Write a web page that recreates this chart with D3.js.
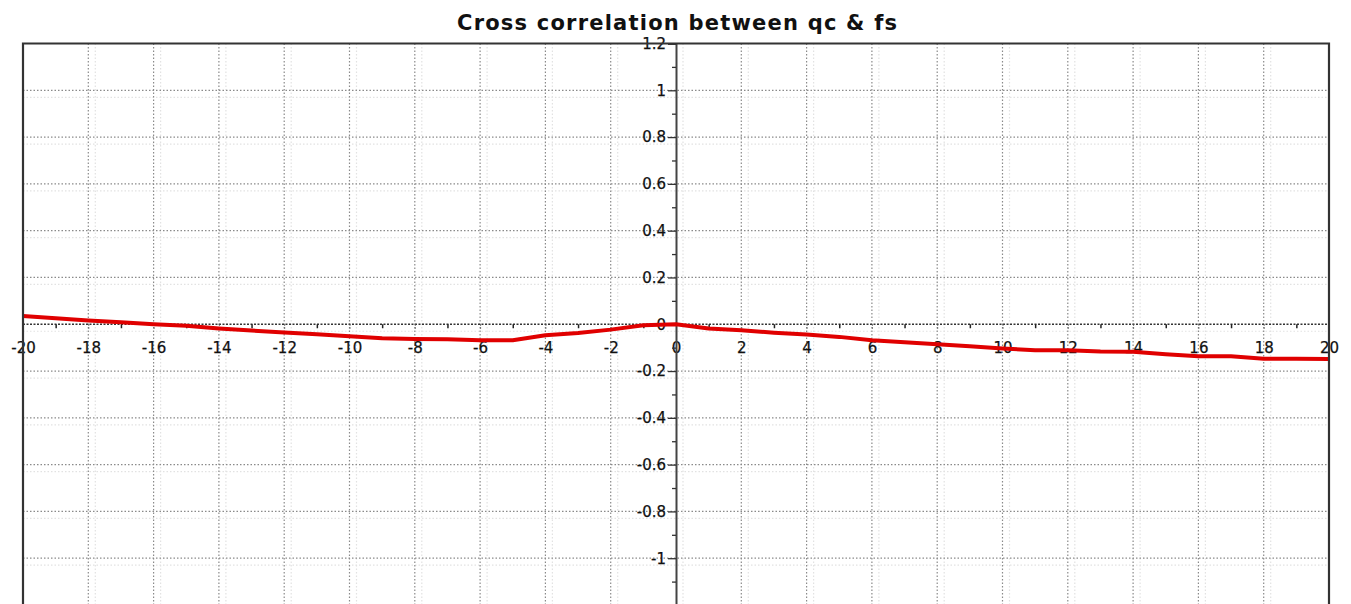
<!DOCTYPE html>
<html>
<head>
<meta charset="utf-8">
<script src="https://cdn.jsdelivr.net/npm/d3@7"></script>
<style>
  html, body { margin: 0; padding: 0; background: #fff; }
  svg { display: block; }
  text { font-family: "DejaVu Sans", Verdana, sans-serif; fill: #111; }
</style>
</head>
<body>
<svg id="chart" width="1351" height="604"></svg>
<script>
// Cross-correlation values by lag
const lags = [-20,-19,-18,-17,-16,-15,-14,-13,-12,-11,-10,-9,-8,-7,-6,-5,-4,-3,-2,-1,0,
              1,2,3,4,5,6,7,8,9,10,11,12,13,14,15,16,17,18,19,20];
const corr = [0.035,0.026,0.016,0.009,0.000,-0.006,-0.018,-0.027,-0.035,-0.043,-0.051,-0.060,-0.063,-0.064,-0.068,-0.068,-0.047,-0.037,-0.023,-0.004,0.000,
              -0.018,-0.026,-0.036,-0.044,-0.054,-0.068,-0.077,-0.085,-0.094,-0.104,-0.111,-0.111,-0.117,-0.118,-0.128,-0.137,-0.137,-0.147,-0.147,-0.148];

const xTicks = [-20,-18,-16,-14,-12,-10,-8,-6,-4,-2,0,2,4,6,8,10,12,14,16,18,20];
const xMinorTicks = [-19,-17,-15,-13,-11,-9,-7,-5,-3,-1,1,3,5,7,9,11,13,15,17,19];
const yTicks = [1.2,1,0.8,0.6,0.4,0.2,0,-0.2,-0.4,-0.6,-0.8,-1];
const yMinorTicks = [1.1,0.9,0.7,0.5,0.3,0.1,-0.1,-0.3,-0.5,-0.7,-0.9,-1.1];
const title = "Cross correlation between qc & fs";

const svg = d3.select("#chart");
const plotLeft = 23, plotRight = 1329, plotTop = 43.5, plotBottom = 605;

const x = d3.scaleLinear().domain([-20, 20]).range([plotLeft, plotRight]);
const y = d3.scaleLinear().domain([-1.2, 1.2]).range([plotBottom, plotTop]);

// plain hyphen-minus labels
const fmt = d => String(+d.toFixed(1));

// faint offset copy of the grid
const gridX = xTicks.slice(1, -1);
const gridY = [1, 0.8, 0.6, 0.4, 0.2, 0, -0.2, -0.4, -0.6, -0.8, -1];
const shadow = svg.append("g").attr("stroke", "#e2e2e2").attr("stroke-width", 1.2)
  .attr("stroke-dasharray", "1.5,2");
shadow.selectAll(".sv").data(gridX).join("line")
  .attr("x1", d => x(d) + 7).attr("x2", d => x(d) + 7)
  .attr("y1", plotTop).attr("y2", plotBottom);
shadow.selectAll(".sh").data(gridY).join("line")
  .attr("y1", d => y(d) + 7).attr("y2", d => y(d) + 7)
  .attr("x1", plotLeft).attr("x2", plotRight);

// dotted grid
const grid = svg.append("g").attr("stroke", "#8a8a8a").attr("stroke-width", 1.2)
  .attr("stroke-dasharray", "1.5,2");
grid.selectAll(".gv").data(gridX.filter(d => d !== 0)).join("line")
  .attr("x1", d => x(d)).attr("x2", d => x(d))
  .attr("y1", plotTop).attr("y2", plotBottom);
grid.selectAll(".gh").data(gridY.filter(d => d !== 0)).join("line")
  .attr("y1", d => y(d)).attr("y2", d => y(d))
  .attr("x1", plotLeft).attr("x2", plotRight);

// x axis through y = 0 (dotted) with ticks below
svg.append("line")
  .attr("x1", plotLeft).attr("x2", plotRight).attr("y1", y(0)).attr("y2", y(0))
  .attr("stroke", "#333").attr("stroke-width", 1.4).attr("stroke-dasharray", "2,1.5");

const xAxis = d3.axisBottom(x).tickValues(xTicks).tickSize(6).tickPadding(12).tickFormat(fmt);
const gx = svg.append("g").attr("transform", `translate(0,${y(0)})`).call(xAxis);
gx.select(".domain").remove();
gx.selectAll(".tick line").attr("stroke", "#555").attr("stroke-dasharray", "1.5,1.5");
gx.selectAll(".tick text").attr("font-size", 15).attr("font-family", "DejaVu Sans, sans-serif")
  .attr("fill", "#111").attr("stroke", "#111").attr("stroke-width", 0.25);

const gxm = svg.append("g").attr("transform", `translate(0,${y(0)})`)
  .call(d3.axisBottom(x).tickValues(xMinorTicks).tickSize(4).tickFormat(""));
gxm.select(".domain").remove();
gxm.selectAll(".tick line").attr("stroke", "#222").attr("stroke-width", 1.5);

// y axis through x = 0
const yAxis = d3.axisLeft(y).tickValues(yTicks).tickSize(8).tickPadding(2).tickFormat(fmt);
const gy = svg.append("g").attr("transform", `translate(${x(0)},0)`).call(yAxis);
gy.select(".domain").attr("stroke", "#444").attr("stroke-width", 2);
gy.selectAll(".tick line").attr("stroke", "#333").attr("stroke-width", 1.3);
gy.selectAll(".tick text").attr("font-size", 15).attr("font-family", "DejaVu Sans, sans-serif")
  .attr("fill", "#111").attr("stroke", "#111").attr("stroke-width", 0.25);

const gym = svg.append("g").attr("transform", `translate(${x(0)},0)`)
  .call(d3.axisLeft(y).tickValues(yMinorTicks).tickSize(4).tickFormat(""));
gym.select(".domain").remove();
gym.selectAll(".tick line").attr("stroke", "#333").attr("stroke-width", 1.3);

// correlation curve
const line = d3.line().x((d, i) => x(lags[i])).y(d => y(d));
svg.append("path")
  .datum(corr)
  .attr("d", line)
  .attr("fill", "none")
  .attr("stroke", "#e00000")
  .attr("stroke-width", 4)
  .attr("stroke-linejoin", "round");

// plot frame
svg.append("path")
  .attr("d", `M${plotLeft},${plotBottom + 5}V${plotTop}H${plotRight}V${plotBottom + 5}`)
  .attr("fill", "none").attr("stroke", "#333").attr("stroke-width", 2.2);

// title
svg.append("text")
  .attr("x", 677).attr("y", 30)
  .attr("text-anchor", "middle")
  .attr("font-size", 21).attr("font-weight", "bold")
  .attr("textLength", 440).attr("lengthAdjust", "spacing")
  .text(title);
</script>
</body>
</html>
